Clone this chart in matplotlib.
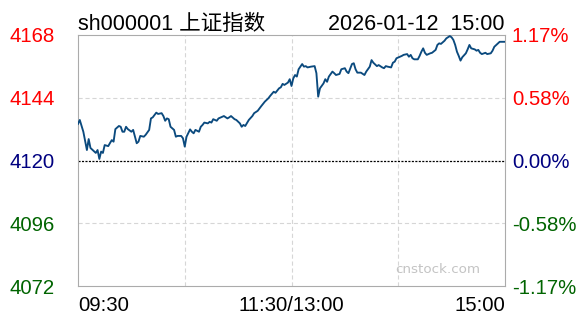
import matplotlib.pyplot as plt

plt.rcParams['font.family'] = ['Liberation Sans', 'Noto Sans CJK SC', 'DejaVu Sans']
plt.rcParams['lines.scale_dashes'] = False

# minute index from 09:30 (0) to 15:00 (240), lunch break collapsed at 120
am_min = [0, 1, 3, 5, 6, 7, 10, 11, 12, 13,
          14, 15, 17, 18, 19, 20, 21, 23, 24, 25,
          26, 27, 28, 30, 31, 32, 33, 34, 35, 37,
          38, 40, 41, 42, 44, 45, 47, 48, 49, 50,
          51, 52, 54, 55, 56, 58, 59, 60, 61, 63,
          64, 65, 66, 68, 69, 70, 71, 73, 74, 75,
          76, 78, 79, 82, 84, 85, 86, 88, 89, 91,
          92, 93, 94, 96, 98, 99, 101, 103, 105, 107,
          108, 110, 111, 113, 114, 115, 116, 118, 119]
am_px = [4134.0, 4135.5, 4131.0, 4124.0, 4128.2, 4124.8, 4122.9, 4124.0, 4120.6, 4123.4,
         4122.9, 4125.9, 4125.5, 4126.7, 4127.8, 4127.2, 4132.0, 4133.2, 4132.9, 4131.0,
         4131.0, 4132.9, 4132.0, 4131.0, 4131.7, 4129.1, 4126.6, 4127.2, 4129.4, 4129.1,
         4129.8, 4131.7, 4136.1, 4136.5, 4138.3, 4137.8, 4138.1, 4137.0, 4135.2, 4136.1,
         4135.8, 4132.9, 4131.7, 4129.1, 4129.4, 4129.4, 4128.5, 4125.3, 4129.1, 4131.9,
         4131.0, 4130.4, 4131.7, 4131.0, 4132.9, 4133.6, 4134.5, 4134.2, 4134.8, 4134.5,
         4135.8, 4135.2, 4136.1, 4137.0, 4136.1, 4136.5, 4137.0, 4135.8, 4135.5, 4134.2,
         4132.9, 4133.6, 4133.2, 4135.5, 4137.0, 4138.1, 4139.0, 4140.8, 4142.5, 4143.8,
         4144.7, 4146.3, 4145.9, 4147.6, 4148.0, 4149.3, 4148.9, 4149.8, 4151.1]

pm_min = [120, 121, 122, 123, 124, 126, 127, 128, 129, 131,
          133, 134, 135, 136, 138, 139, 140, 141, 143, 144,
          145, 147, 148, 150, 151, 152, 154, 155, 156, 157,
          159, 161, 162, 164, 165, 166, 168, 169, 171, 172,
          173, 174, 176, 177, 178, 179, 181, 182, 183, 185,
          186, 187, 188, 189, 191, 192, 193, 194, 195, 196,
          198, 199, 201, 202, 203, 204, 206, 207, 209, 210,
          211, 212, 213, 214, 215, 216, 218, 219, 220, 221,
          223, 224, 225, 226, 227, 229, 230, 232, 233, 234,
          236, 237, 240]
pm_px = [4148.5, 4151.4, 4152.7, 4152.1, 4154.9, 4156.9, 4155.9, 4156.1, 4155.6, 4155.9,
         4156.1, 4153.4, 4144.4, 4147.6, 4149.5, 4151.1, 4150.1, 4152.1, 4154.0, 4153.4,
         4152.7, 4153.1, 4154.9, 4155.3, 4154.0, 4153.4, 4156.9, 4157.2, 4154.9, 4153.6,
         4153.6, 4152.7, 4154.0, 4155.9, 4158.4, 4157.4, 4156.1, 4156.5, 4155.6, 4155.3,
         4156.1, 4155.9, 4155.6, 4157.4, 4157.8, 4159.1, 4159.7, 4160.0, 4160.4, 4160.7,
         4159.7, 4160.4, 4159.1, 4158.7, 4158.7, 4160.0, 4161.6, 4162.9, 4161.2, 4160.4,
         4161.0, 4161.2, 4162.3, 4164.2, 4164.8, 4164.6, 4165.8, 4166.7, 4167.6, 4167.1,
         4166.1, 4164.2, 4161.6, 4160.0, 4158.2, 4159.5, 4161.0, 4162.5, 4164.2, 4162.9,
         4162.5, 4162.0, 4162.3, 4161.2, 4160.7, 4161.2, 4160.7, 4161.0, 4162.0, 4163.5,
         4164.8, 4165.4, 4165.4]

prev_close = 4120
levels = [4168, 4144, 4120, 4096, 4072]
left_labels = ['4168', '4144', '4120', '4096', '4072']
right_labels = ['1.17%', '0.58%', '0.00%', '-0.58%', '-1.17%']
level_colors = ['#ff0000', '#ff0000', '#000080', '#006400', '#006400']
time_ticks = [0, 120, 240]
time_labels = ['09:30', '11:30/13:00', '15:00']

title = 'sh000001 上证指数'
stamp = '2026-01-12  15:00'

W, H = 588, 324
fig = plt.figure(figsize=(W / 100, H / 100), dpi=100)
ax = fig.add_axes([78 / W, 1 - 286 / H, 427 / W, 251 / H])

minutes = am_min + pm_min
prices = am_px + pm_px
ax.plot(minutes, prices, color='#0b4a7e', lw=1.35, zorder=3)

ax.set_xlim(0, 240)
ax.set_ylim(levels[-1], levels[0])

for t in [60, 120, 180]:
    ax.axvline(t, color='#d6d6d6', lw=0.8, ls=(0, (3, 2)), zorder=1)
for lv in [4144, 4096]:
    ax.axhline(lv, color='#d6d6d6', lw=0.8, ls=(0, (3, 2)), zorder=1)
ax.axhline(prev_close, color='black', lw=0.9, ls=(0, (1.5, 1)), zorder=2)

for s in ax.spines.values():
    s.set_color('#ababab')
    s.set_linewidth(0.8)

ax.set_yticks(levels)
ax.set_yticklabels(left_labels)
ax.tick_params(axis='y', length=0, pad=16.5, labelsize=14.7)
for lab, c in zip(ax.get_yticklabels(), level_colors):
    lab.set_color(c)

ax.set_xticks(time_ticks)
ax.set_xticklabels(time_labels)
ax.tick_params(axis='x', length=0, pad=7.5, labelsize=14.7)
xl = ax.get_xticklabels()
xl[0].set_ha('left')
xl[2].set_ha('right')

ax2 = ax.twinx()
ax2.set_ylim(levels[-1], levels[0])
ax2.set_yticks(levels)
ax2.set_yticklabels(right_labels)
ax2.tick_params(axis='y', length=0, pad=5, labelsize=14.7)
for lab, c in zip(ax2.get_yticklabels(), level_colors):
    lab.set_color(c)
for s in ax2.spines.values():
    s.set_visible(False)

fig.text(78 / W, 1 - 30 / H, title, fontsize=15.5, ha='left', va='baseline')
fig.text(504 / W, 1 - 30 / H, stamp, fontsize=15.5, ha='right', va='baseline')

ax.text(0.941, 0.064, 'cnstock.com', transform=ax.transAxes, ha='right', va='center',
        color='#c4c4c4', fontsize=9.7, family='DejaVu Sans')

fig.savefig('out.png', dpi=100)
